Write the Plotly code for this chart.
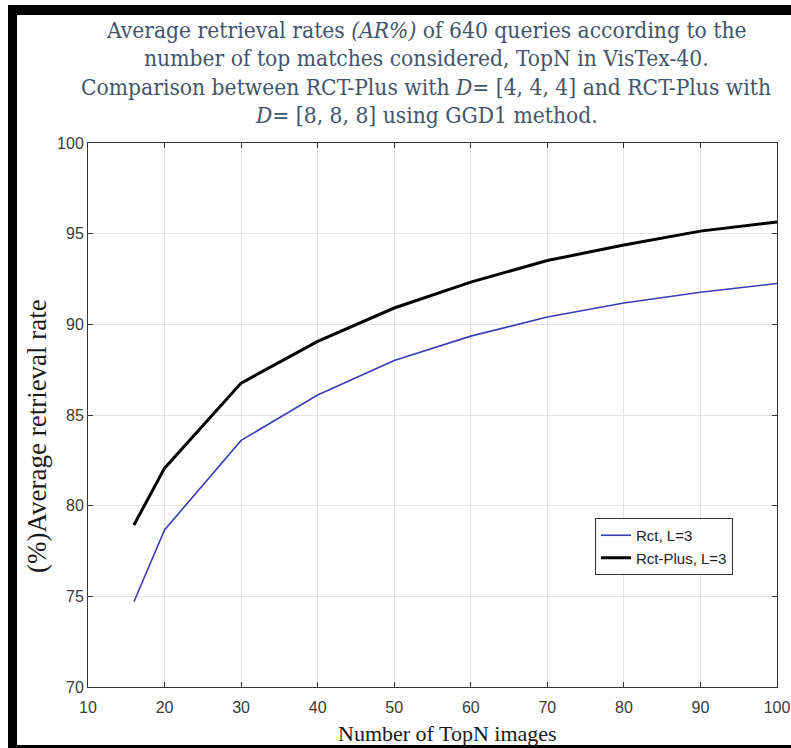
import plotly.graph_objects as go

# TopN values and average retrieval rates (%)
topn = [16, 20, 30, 40, 50, 60, 70, 80, 90, 100]
rct = [74.7, 78.66, 83.6, 86.1, 88.0, 89.35, 90.4, 91.18, 91.77, 92.25]
rct_plus = [78.93, 82.07, 86.76, 89.06, 90.9, 92.33, 93.52, 94.37, 95.14, 95.64]

x_ticks = [10, 20, 30, 40, 50, 60, 70, 80, 90, 100]
y_ticks = [70, 75, 80, 85, 90, 95, 100]

title_lines = [
    "Average retrieval rates <i>(AR%)</i> of 640 queries according to the",
    "number of top matches considered, TopN in VisTex-40.",
    "Comparison between RCT-Plus with <i>D</i>= [4, 4, 4] and RCT-Plus with",
    "<i>D</i>= [8, 8, 8] using GGD1 method.",
]

W, H = 791, 748
L, R, T, B = 88, 14, 143, 61
PW, PH = W - L - R, H - T - B


def px(x):
    return (x - L) / PW


def py(y):
    return (H - B - y) / PH


fig = go.Figure()
fig.add_trace(go.Scatter(x=topn, y=rct, mode="lines", name="Rct, L=3",
                         line=dict(color="#3b3bb8", width=1.6)))
fig.add_trace(go.Scatter(x=topn, y=rct_plus, mode="lines", name="Rct-Plus, L=3",
                         line=dict(color="#000000", width=3)))

axis_common = dict(
    showline=True, linecolor="#333333", linewidth=1, mirror="ticks",
    ticks="inside", ticklen=5, tickcolor="#333333",
    showgrid=True, gridcolor="#e3e3e3", gridwidth=1, zeroline=False,
    automargin=False,
    tickfont=dict(family="Liberation Sans, Arial", size=16, color="#3a3a3a"),
)

fig.update_xaxes(range=[10, 100], tickvals=x_ticks, ticklabelstandoff=6, **axis_common)
fig.update_yaxes(range=[70, 100], tickvals=y_ticks, **axis_common)

title_font = dict(family="DejaVu Serif Condensed, DejaVu Serif, serif", size=22.6,
                  color="#44546a")
annotations = [
    dict(text=line, xref="paper", yref="paper", x=px(426), y=py(yc),
         xanchor="center", yanchor="middle", showarrow=False, font=title_font)
    for line, yc in zip(title_lines, [30, 58, 87, 115])
]
annotations += [
    dict(text="(%)Average retrieval rate", xref="paper", yref="paper",
         x=px(37), y=py(436), textangle=-90, xanchor="center", yanchor="middle",
         showarrow=False,
         font=dict(family="Liberation Serif, serif", size=27, color="#1a1a1a")),
    dict(text="Number of TopN images", xref="paper", yref="paper",
         x=px(447), y=py(733), xanchor="center", yanchor="middle",
         showarrow=False,
         font=dict(family="Liberation Serif, serif", size=22, color="#1a1a1a")),
]

black = "#000000"
fig.update_layout(
    width=W, height=H,
    margin=dict(l=L, r=R, t=T, b=B, autoexpand=False),
    paper_bgcolor="white", plot_bgcolor="white",
    showlegend=True,
    legend=dict(x=px(595), y=py(518), xanchor="left", yanchor="top",
                bgcolor="white", bordercolor="#333333", borderwidth=1,
                font=dict(family="Liberation Sans, Arial", size=15, color="#222222"),
                tracegroupgap=0, itemwidth=30),
    annotations=annotations,
    shapes=[
        dict(type="rect", xref="paper", yref="paper", x0=px(8), x1=px(791),
             y0=py(15), y1=py(5), fillcolor=black, line_width=0, layer="above"),
        dict(type="rect", xref="paper", yref="paper", x0=px(8), x1=px(17),
             y0=py(748), y1=py(5), fillcolor=black, line_width=0, layer="above"),
        dict(type="rect", xref="paper", yref="paper", x0=px(8), x1=px(791),
             y0=py(748), y1=py(745), fillcolor=black, line_width=0, layer="above"),
    ],
)

fig.write_html("out.html", config={"responsive": False})
